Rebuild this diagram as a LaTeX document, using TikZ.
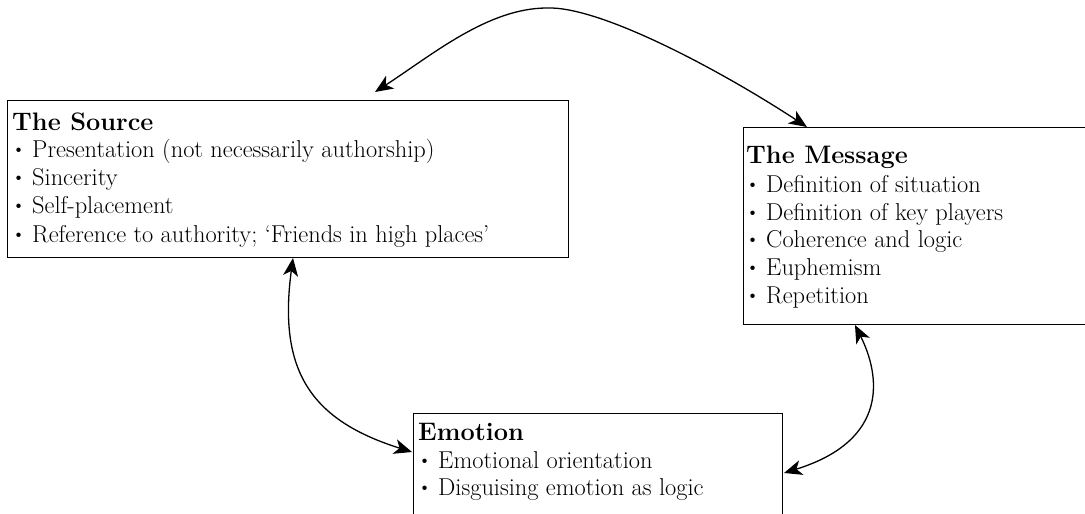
\documentclass[tikz,border=0pt]{standalone}
\usepackage{graphicx}
\usetikzlibrary{arrows.meta,calc}
\begin{document}
\begin{tikzpicture}[x=1pt,y=-1pt,
  box/.style={draw=black, line width=1pt, rectangle, inner sep=0pt, anchor=north west},
  ttl/.style={font=\fontsize{25.3}{28}\selectfont\bfseries, inner sep=0pt, anchor=base west},
  itm/.style={font=\fontsize{24.4}{28}\selectfont, inner sep=0pt, anchor=base west},
  link/.style={line width=1.3pt, {Stealth[length=18pt,width=15pt,inset=5pt]}-{Stealth[length=18pt,width=15pt,inset=5pt]}}]
\useasboundingbox (0,0) rectangle (1085,514);
\clip (0,0) rectangle (1085,514);
% boxes
\node[box, minimum width=561pt, minimum height=157pt] (src) at (7,100) {};
\node[box, minimum width=360pt, minimum height=197pt] (msg) at (743,127) {};
\node[box, minimum width=369pt, minimum height=130pt] (emo) at (413,413) {};
% texts
\newcommand{\bul}[1]{\makebox[20pt][l]{\hspace{-0.5pt}\raisebox{0.06em}{\scalebox{0.8}{\textbullet}}}#1}
\node[ttl] (srcT) at (12,130) {The Source};
\node[itm] (src1) at (12,157) {\bul{Presentation (not necessarily authorship)}};
\node[itm] (src2) at (12,185) {\bul{Sincerity}};
\node[itm] (src3) at (12,213) {\bul{Self-placement}};
\node[itm] (src4) at (12,242) {\bul{Reference to authority; `Friends in high places'}};
\node[ttl] (msgT) at (746,163) {The Message};
\node[itm] (msg1) at (746,192) {\bul{Definition of situation}};
\node[itm] (msg2) at (746,220) {\bul{Definition of key players}};
\node[itm] (msg3) at (746,247) {\bul{Coherence and logic}};
\node[itm] (msg4) at (746,275) {\bul{Euphemism}};
\node[itm] (msg5) at (746,303) {\bul{Repetition}};
\node[ttl] (emoT) at (418,440) {Emotion};
\node[itm] (emo1) at (418,468) {\bul{Emotional orientation}};
\node[itm] (emo2) at (418,495) {\bul{Disguising emotion as logic}};
% connectors
\coordinate (a1) at ($(src.north west)+(368,-8)$);
\coordinate (pk) at (547,8);
\coordinate (a2) at ($(msg.north west)+(64,0)$);
\draw[link] (a1) .. controls (432,55) and (488,8) .. (pk)
  .. controls (600,6) and (720,70) .. (a2);
\coordinate (b1) at ($(src.south west)+(286,0)$);
\coordinate (b2) at ($(emo.north west)+(-1,39)$);
\draw[link] (b1) .. controls (278,370) and (310,420) .. (b2);
\coordinate (c1) at ($(msg.south west)+(112,0)$);
\coordinate (c2) at ($(emo.north east)+(1,60)$);
\draw[link] (c1) .. controls (880,375) and (890,440) .. (c2);
\end{tikzpicture}
\end{document}
